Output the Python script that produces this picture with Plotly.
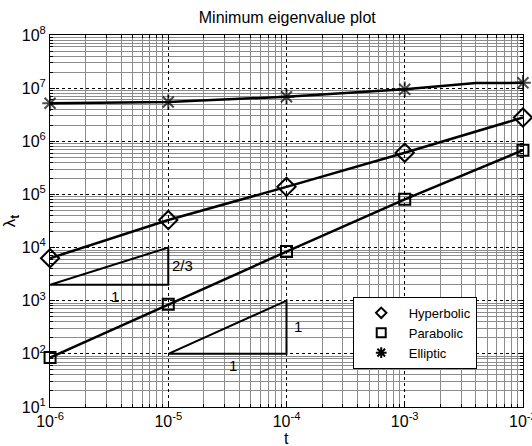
import plotly.graph_objects as go

t = [1e-6, 1e-5, 1e-4, 1e-3, 1e-2]
hyperbolic = [6.3e3, 3.3e4, 1.39e5, 6.1e5, 2.8e6]
parabolic = [85, 860, 8.4e3, 8.1e4, 6.8e5]
t_ell = [1e-6, 1e-5, 1e-4, 1e-3, 4e-3, 1e-2]
elliptic = [5.2e6, 5.5e6, 6.9e6, 9.5e6, 1.25e7, 1.26e7]
ell_marker = [13, 13, 13, 13, 0, 13]

tri1_x = [1e-6, 1e-5, 1e-5, 1e-6]
tri1_y = [2e3, 2e3, 1e4, 2e3]
tri2_x = [1e-5, 1e-4, 1e-4, 1e-5]
tri2_y = [100, 100, 1000, 100]

xticks = [1e-6, 1e-5, 1e-4, 1e-3, 1e-2]
xticklabels = ["10<sup>-6</sup>", "10<sup>-5</sup>", "10<sup>-4</sup>", "10<sup>-3</sup>", "10<sup>-2</sup>"]
yticks = [1e1, 1e2, 1e3, 1e4, 1e5, 1e6, 1e7, 1e8]
yticklabels = ["10<sup>%d</sup>" % k for k in range(1, 9)]

xminor = [m * 10 ** e for e in range(-6, -2) for m in range(2, 10)]
yminor = [m * 10 ** e for e in range(1, 8) for m in range(2, 10)]

fig = go.Figure()
lw = 2.5
fig.add_trace(go.Scatter(x=t, y=hyperbolic, mode="lines+markers", showlegend=False, cliponaxis=False,
                         line=dict(color="black", width=lw),
                         marker=dict(symbol="diamond-open", size=14, color="black", line=dict(width=2))))
fig.add_trace(go.Scatter(x=t, y=parabolic, mode="lines+markers", showlegend=False, cliponaxis=False,
                         line=dict(color="black", width=lw),
                         marker=dict(symbol="square-open", size=11, color="black", line=dict(width=2))))
fig.add_trace(go.Scatter(x=t_ell, y=elliptic, mode="lines+markers", showlegend=False, cliponaxis=False,
                         line=dict(color="black", width=lw),
                         marker=dict(symbol="asterisk-open", size=ell_marker, color="black", line=dict(width=2))))
fig.add_trace(go.Scatter(x=tri1_x, y=tri1_y, mode="lines", showlegend=False,
                         line=dict(color="black", width=2)))
fig.add_trace(go.Scatter(x=tri2_x, y=tri2_y, mode="lines", showlegend=False,
                         line=dict(color="black", width=2)))

# legend-only entries (markers only)
fig.add_trace(go.Scatter(x=[None], y=[None], mode="markers", name="Hyperbolic",
                         marker=dict(symbol="diamond-open", size=8, color="black", line=dict(width=2))))
fig.add_trace(go.Scatter(x=[None], y=[None], mode="markers", name="Parabolic",
                         marker=dict(symbol="square-open", size=9, color="black", line=dict(width=2))))
fig.add_trace(go.Scatter(x=[None], y=[None], mode="markers", name="Elliptic",
                         marker=dict(symbol="asterisk-open", size=9, color="black", line=dict(width=2))))

annots = [
    dict(x=-5, y=3.67, text="2/3", xanchor="left", xshift=2),
    dict(x=-5.45, y=3.08, text="1", xanchor="center"),
    dict(x=-4, y=2.52, text="1", xanchor="left", xshift=5),
    dict(x=-4.45, y=1.79, text="1", xanchor="center"),
]
for a in annots:
    fig.add_annotation(x=a["x"], y=a["y"], text=a["text"], showarrow=False,
                       xanchor=a["xanchor"], xshift=a.get("xshift", 0),
                       font=dict(size=15, color="black"))

# x-axis title as annotation below tick labels
fig.add_annotation(x=0.5, y=-0.085, xref="paper", yref="paper", text="t", showarrow=False,
                   xanchor="center", yanchor="middle", font=dict(size=16, color="black"))

axis_common = dict(
    type="log", showline=True, linecolor="black", linewidth=1, mirror="allticks",
    ticks="inside", ticklen=5, tickcolor="black", automargin=False,
    showgrid=True, gridcolor="black", griddash="dot", gridwidth=1,
    zeroline=False, tickfont=dict(size=16, color="black"), ticklabeloverflow="allow",
)
minor_common = dict(tickmode="array", ticks="inside", ticklen=3, tickcolor="black",
                    showgrid=True, gridcolor="#8c8c8c", gridwidth=1, griddash="solid")

fig.update_xaxes(**axis_common, range=[-6.0005, -1.9995], tickmode="array", tickvals=xticks, ticktext=xticklabels,
                 minor=dict(**minor_common, tickvals=xminor))
fig.update_yaxes(**axis_common, range=[0.9995, 8.0005], tickmode="array", tickvals=yticks, ticktext=yticklabels,
                 minor=dict(**minor_common, tickvals=yminor),
                 title=dict(text="λ<sub><b>t</b></sub>", font=dict(size=17, color="black"), standoff=4))

fig.update_layout(
    width=532, height=446,
    margin=dict(l=50, r=9, t=35, b=39),
    paper_bgcolor="white", plot_bgcolor="white",
    font=dict(family="Liberation Sans, Arial, sans-serif", color="black"),
    title=dict(text="Minimum eigenvalue plot", x=0.54, xanchor="center", y=0.96, yanchor="middle",
               font=dict(size=16, color="black"), automargin=False),
    legend=dict(x=0.64, y=0.296, xanchor="left", yanchor="top", bgcolor="white",
                bordercolor="black", borderwidth=1, font=dict(size=13, color="black"),
                itemwidth=45, tracegroupgap=0),
)

fig.write_html("out.html", config={"displayModeBar": False},
               post_script="document.body.style.margin='0';document.body.style.overflow='hidden';")
